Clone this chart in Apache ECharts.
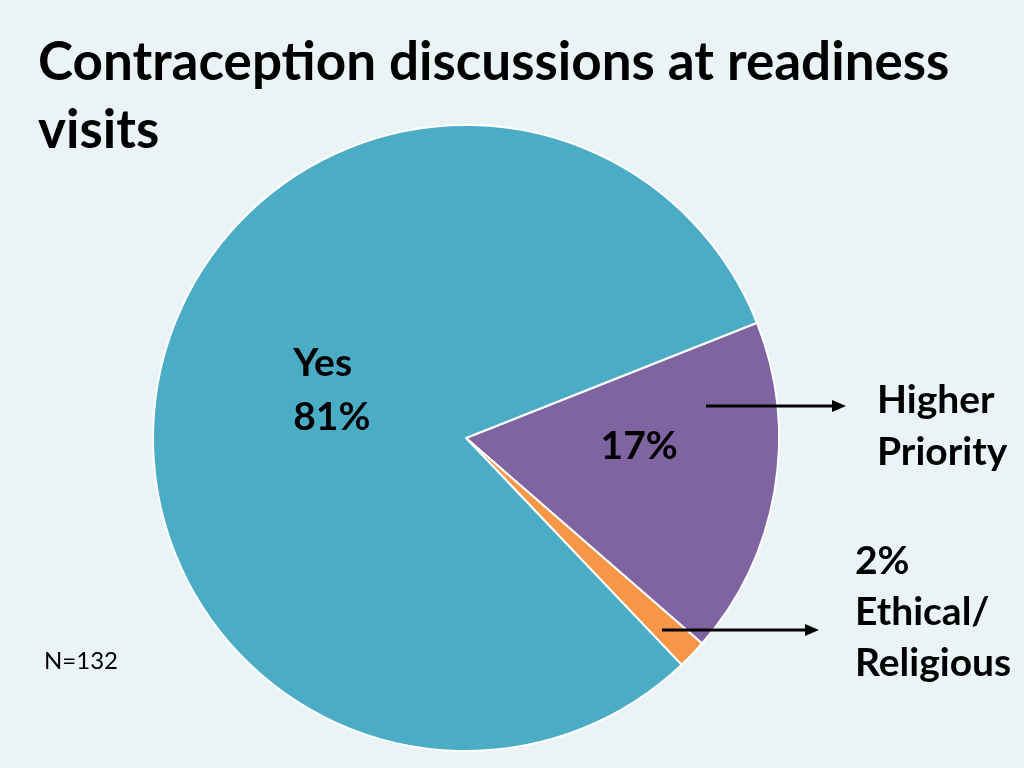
<!DOCTYPE html>
<html>
<head>
<meta charset="utf-8">
<script src="https://cdn.jsdelivr.net/npm/echarts@6/dist/echarts.min.js"></script>
<style>
  html, body { margin: 0; padding: 0; background: #eaf4f7; }
  #chart { width: 1024px; height: 768px; }
</style>
</head>
<body>
<div id="chart"></div>
<script>
// slice names and shares (%)
var categories = ['Higher Priority', 'Ethical/Religious', 'Yes'];
var shares = [17.4, 1.5, 81.1];
var shownPct = [17, 2, 81];
var sliceColors = ['#8064a2', '#f79646', '#4bacc6'];
var sampleSize = 132;

var eChart = echarts.init(document.getElementById('chart'));

var labelFont = 'Lato, "Open Sans", sans-serif';

var pieData = [];
for (var i = 0; i < categories.length; i++) {
    pieData.push({ name: categories[i], value: shares[i] });
}
// inside labels: Yes gets name + pct, Higher Priority only pct, the tiny one none
pieData[0].label = { show: true, formatter: shownPct[0] + '%', offset: [16, -19] };
pieData[1].label = { show: false };
pieData[2].label = {
    show: true,
    formatter: '{t|Yes}\n{t|' + shownPct[2] + '%}',
    offset: [23, -13],
    rich: {
        t: { width: 80, align: 'left', fontFamily: labelFont, fontWeight: 'bold', fontSize: 39, lineHeight: 54, color: '#000' }
    }
};

var option = {
    backgroundColor: '#eaf4f7',
    color: sliceColors,
    title: {
        text: 'Contraception discussions at readiness\nvisits',
        left: 33,
        top: 24,
        textStyle: {
            fontFamily: labelFont,
            fontWeight: 'bold',
            fontSize: 53,
            lineHeight: 68,
            color: '#000'
        }
    },
    series: [
        {
            name: 'discussions',
            type: 'pie',
            center: [466, 438],
            radius: 313,
            startAngle: 21.6,
            clockwise: true,
            silent: true,
            data: pieData,
            itemStyle: {
                borderColor: '#ffffff',
                borderWidth: 2
            },
            label: {
                position: 'inside',
                fontFamily: labelFont,
                fontWeight: 'bold',
                fontSize: 39,
                lineHeight: 54,
                color: '#000'
            },
            labelLine: { show: false }
        }
    ],
    graphic: [
        {
            type: 'line',
            z: 100,
            shape: { x1: 706, y1: 406, x2: 834, y2: 406 },
            style: { stroke: '#000', lineWidth: 3 }
        },
        {
            type: 'polygon',
            z: 100,
            shape: { points: [[846, 406], [832, 400], [832, 412]] },
            style: { fill: '#000' }
        },
        {
            type: 'line',
            z: 100,
            shape: { x1: 662, y1: 630, x2: 807, y2: 630 },
            style: { stroke: '#000', lineWidth: 3 }
        },
        {
            type: 'polygon',
            z: 100,
            shape: { points: [[819, 630], [805, 624], [805, 636]] },
            style: { fill: '#000' }
        },
        {
            type: 'text',
            z: 100,
            left: 877,
            top: 374,
            style: {
                text: 'Higher\nPriority',
                font: 'bold 39px ' + labelFont,
                lineHeight: 52,
                fill: '#000'
            }
        },
        {
            type: 'text',
            z: 100,
            left: 855,
            top: 536,
            style: {
                text: shownPct[1] + '%\nEthical/\nReligious',
                font: 'bold 39px ' + labelFont,
                lineHeight: 51,
                fill: '#000'
            }
        },
        {
            type: 'text',
            z: 100,
            left: 44,
            top: 649,
            style: {
                text: 'N=' + sampleSize,
                font: '24px ' + labelFont,
                fill: '#000'
            }
        }
    ]
};

eChart.setOption(option, true);
</script>
</body>
</html>
